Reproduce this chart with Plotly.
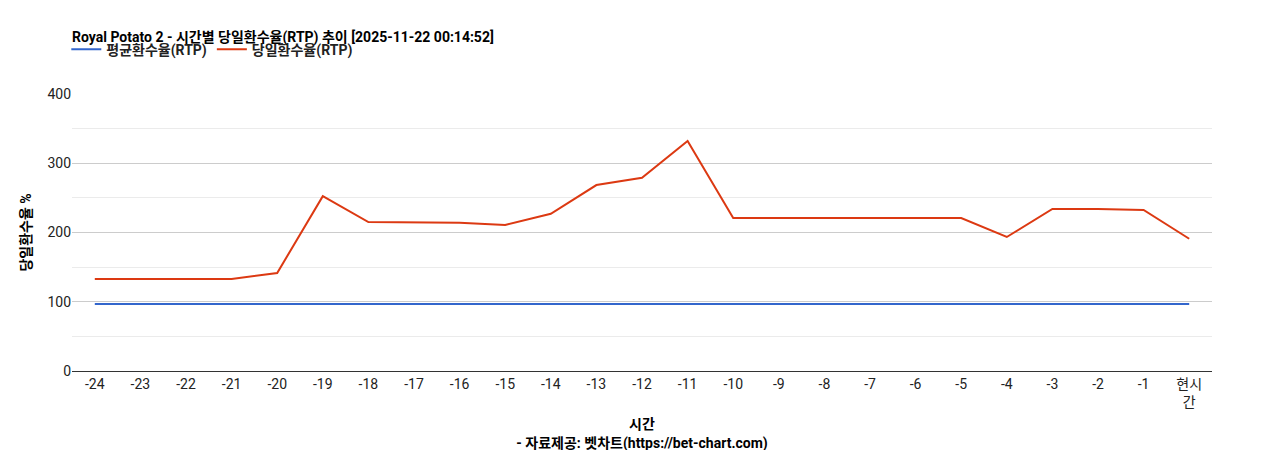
import plotly.graph_objects as go

hours = [str(h) for h in range(-24, 0)] + ["현시<br>간"]
rtp_avg = [96.7] * 25
rtp_day = [133, 133, 133, 133, 141.5, 252.5, 215, 214, 214, 211, 227, 268.5, 279,
           332, 221, 221, 221, 221, 221, 221, 193.5, 234, 234, 232.5, 191]

font = "Roboto, Noto Sans CJK KR, sans-serif"

fig = go.Figure()
fig.add_trace(go.Scatter(x=hours, y=rtp_avg, mode="lines", name="<b>평균환수율(RTP)</b>",
                         line=dict(color="#3366cc", width=2)))
fig.add_trace(go.Scatter(x=hours, y=rtp_day, mode="lines", name="<b>당일환수율(RTP)</b>",
                         line=dict(color="#dc3912", width=2)))

fig.update_layout(
    width=1268, height=450,
    paper_bgcolor="white", plot_bgcolor="white",
    font=dict(family=font, size=14, color="#222"),
    margin=dict(l=64, r=64, t=86, b=87, autoexpand=False),
    title=dict(text="<b>Royal Potato 2 - 시간별 당일환수율(RTP) 추이 [2025-11-22 00:14:52]</b>",
               x=64 / 1268, xref="container", xanchor="left", y=0.935, yanchor="middle",
               font=dict(size=14, color="#000")),
    legend=dict(orientation="h", x=-0.005, xanchor="left", y=1.16, yanchor="middle",
                font=dict(size=14, color="#222"), traceorder="normal"),
    xaxis=dict(
        title=dict(text="<b>시간</b><br><b>- 자료제공: 벳차트(https://bet-chart.com)</b>",
                   font=dict(size=14, color="#000"), standoff=10),
        range=[-0.5, 24.5],
        showline=True, linecolor="#333", showgrid=False, ticks="",
        tickfont=dict(size=14, color="#222"),
    ),
    yaxis=dict(
        title=dict(text="<b>당일환수율 %</b>", font=dict(size=14, color="#000"), standoff=12),
        range=[0, 400], tickvals=[0, 100, 200, 300, 400],
        gridcolor="#cccccc", zeroline=False, showline=False,
        tickfont=dict(size=14, color="#222"),
        minor=dict(tickvals=[50, 150, 250, 350], showgrid=True, gridcolor="#ebebeb"),
    ),
)

fig.write_html("out.html")
